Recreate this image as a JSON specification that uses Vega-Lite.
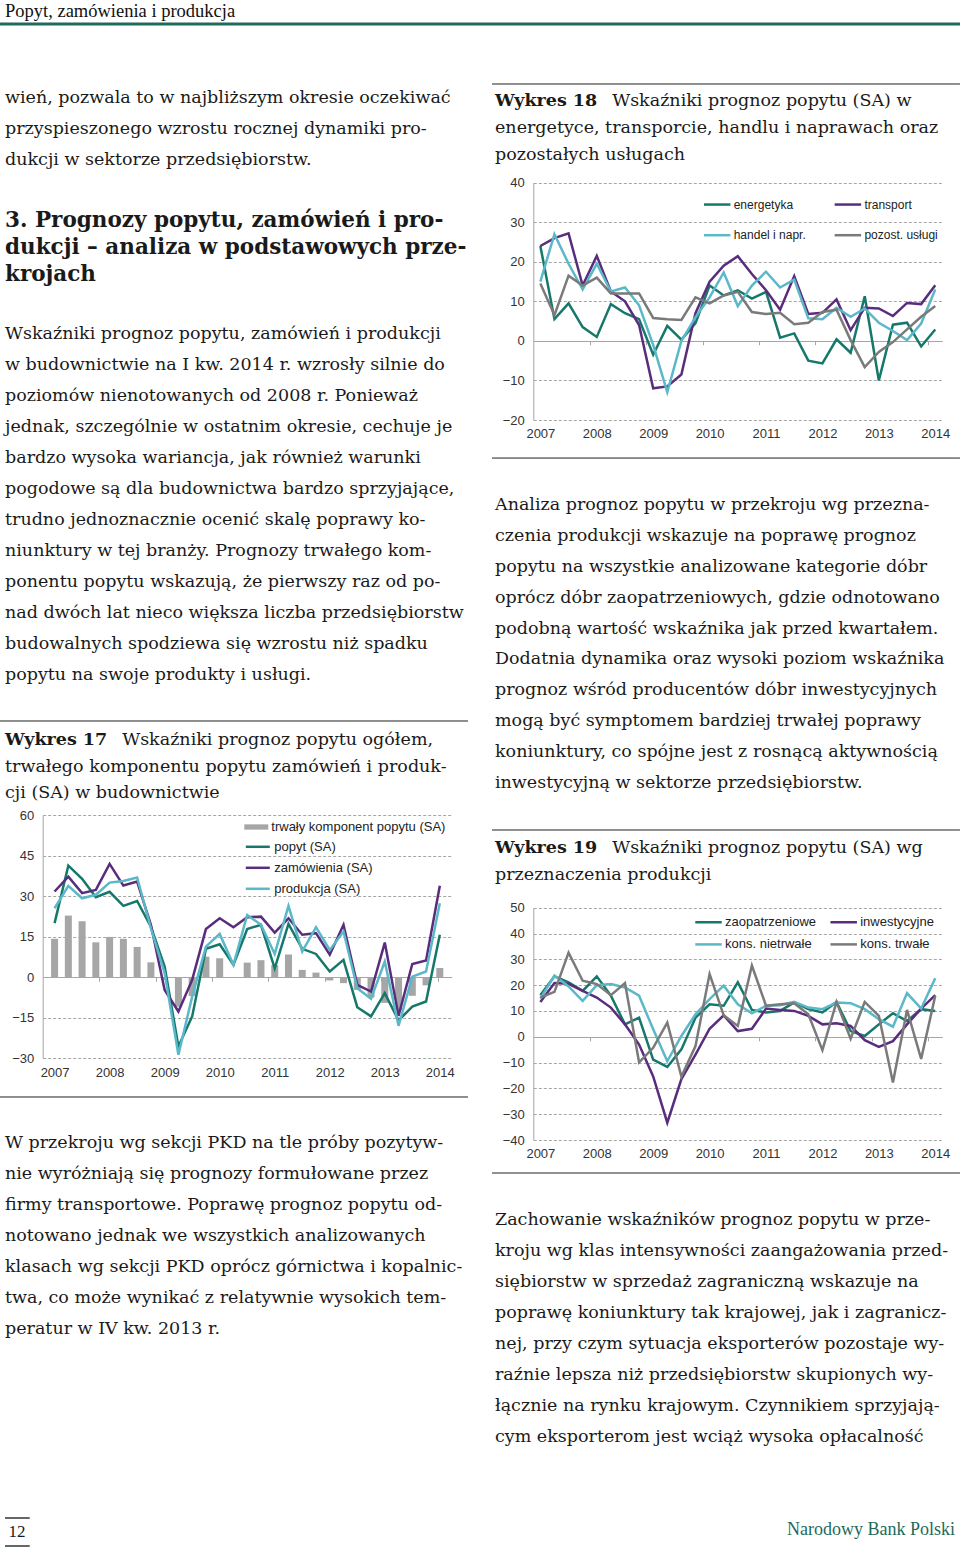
{
"$schema": "https://vega.github.io/schema/vega-lite/v6.json",
"width": 960, "height": 1547,
"autosize": {"type": "none"},
"padding": 0,
"background": "#ffffff",
"config": {"view": {"stroke": null}},
"datasets": {
"w18": [
{"t":2007,"energetyka":24,"transport":24,"handel":15,"pozost":14.5},
{"t":2007.25,"energetyka":5.5,"transport":26,"handel":27,"pozost":6.5},
{"t":2007.5,"energetyka":9.5,"transport":27.2,"handel":19.5,"pozost":16.5},
{"t":2007.75,"energetyka":3.5,"transport":14,"handel":13,"pozost":14},
{"t":2008,"energetyka":1,"transport":21.5,"handel":19.5,"pozost":16},
{"t":2008.25,"energetyka":9.3,"transport":12.5,"handel":12.5,"pozost":12},
{"t":2008.5,"energetyka":7,"transport":10,"handel":13.5,"pozost":12},
{"t":2008.75,"energetyka":5.5,"transport":4,"handel":9,"pozost":12},
{"t":2009,"energetyka":-3.5,"transport":-12,"handel":-1,"pozost":5.8},
{"t":2009.25,"energetyka":3.8,"transport":-11.5,"handel":-13,"pozost":5.5},
{"t":2009.5,"energetyka":0.3,"transport":-8.5,"handel":0,"pozost":5.3},
{"t":2009.75,"energetyka":4.5,"transport":7,"handel":6,"pozost":11},
{"t":2010,"energetyka":14,"transport":15,"handel":11,"pozost":9.5},
{"t":2010.25,"energetyka":11.5,"transport":19,"handel":17.3,"pozost":11.5},
{"t":2010.5,"energetyka":12.8,"transport":21.4,"handel":8.8,"pozost":12.4},
{"t":2010.75,"energetyka":10.7,"transport":16.9,"handel":14,"pozost":7.3},
{"t":2011,"energetyka":12.4,"transport":12.8,"handel":17.5,"pozost":6.8},
{"t":2011.25,"energetyka":0.8,"transport":7.9,"handel":13.5,"pozost":7.1},
{"t":2011.5,"energetyka":1.9,"transport":16.4,"handel":15.5,"pozost":4.2},
{"t":2011.75,"energetyka":-5,"transport":6.8,"handel":5.7,"pozost":4.6},
{"t":2012,"energetyka":-5.7,"transport":7.1,"handel":5.5,"pozost":7.3},
{"t":2012.25,"energetyka":0.4,"transport":10.5,"handel":8.4,"pozost":7.9},
{"t":2012.5,"energetyka":-3,"transport":2.7,"handel":6.1,"pozost":0.2},
{"t":2012.75,"energetyka":11.3,"transport":8.4,"handel":8.2,"pozost":-6.6},
{"t":2013,"energetyka":-10,"transport":8.2,"handel":4.6,"pozost":-2.8},
{"t":2013.25,"energetyka":4.1,"transport":6.3,"handel":2.5,"pozost":-0.3},
{"t":2013.5,"energetyka":4.6,"transport":9.6,"handel":0.2,"pozost":2.9},
{"t":2013.75,"energetyka":-1.4,"transport":9.3,"handel":4.4,"pozost":6.1},
{"t":2014,"energetyka":2.9,"transport":14.1,"handel":13,"pozost":8.8}
],
"w17": [
{"t":2007,"trwaly":14.2,"popyt":20,"zamowienia":31.7,"produkcja":25.5},
{"t":2007.25,"trwaly":22.8,"popyt":41.3,"zamowienia":37.2,"produkcja":33.8},
{"t":2007.5,"trwaly":20.7,"popyt":36.4,"zamowienia":31.1,"produkcja":29.2},
{"t":2007.75,"trwaly":12.9,"popyt":29.6,"zamowienia":32.3,"produkcja":30.5},
{"t":2008,"trwaly":14.9,"popyt":31.6,"zamowienia":41.9,"produkcja":35},
{"t":2008.25,"trwaly":14.2,"popyt":26.4,"zamowienia":33.9,"produkcja":35.6},
{"t":2008.5,"trwaly":11.2,"popyt":28.2,"zamowienia":35.4,"produkcja":36.9},
{"t":2008.75,"trwaly":5.5,"popyt":18.7,"zamowienia":19.4,"produkcja":18.1},
{"t":2009,"trwaly":-1,"popyt":3.9,"zamowienia":-4.7,"produkcja":1.5},
{"t":2009.25,"trwaly":-10.9,"popyt":-25.6,"zamowienia":-12.7,"produkcja":-28.7},
{"t":2009.5,"trwaly":-7,"popyt":-14.5,"zamowienia":-1,"produkcja":-7.2},
{"t":2009.75,"trwaly":7.6,"popyt":10.5,"zamowienia":17.8,"produkcja":11.3},
{"t":2010,"trwaly":7,"popyt":12.2,"zamowienia":21.8,"produkcja":16},
{"t":2010.25,"trwaly":-0.3,"popyt":4.6,"zamowienia":18.5,"produkcja":4.6},
{"t":2010.5,"trwaly":5.4,"popyt":17.8,"zamowienia":22.2,"produkcja":23},
{"t":2010.75,"trwaly":6.3,"popyt":19.4,"zamowienia":22.4,"produkcja":19.4},
{"t":2011,"trwaly":4.5,"popyt":3.3,"zamowienia":16.5,"produkcja":8.6},
{"t":2011.25,"trwaly":8.4,"popyt":19.7,"zamowienia":21.8,"produkcja":26.4},
{"t":2011.5,"trwaly":2.7,"popyt":10.5,"zamowienia":15.7,"produkcja":9.5},
{"t":2011.75,"trwaly":1.7,"popyt":8.6,"zamowienia":16.3,"produkcja":18.5},
{"t":2012,"trwaly":-1.2,"popyt":2.1,"zamowienia":8.3,"produkcja":10.1},
{"t":2012.25,"trwaly":-2.2,"popyt":6.4,"zamowienia":19.4,"produkcja":16.9},
{"t":2012.5,"trwaly":-4.7,"popyt":-11.1,"zamowienia":-2.8,"produkcja":-4.1},
{"t":2012.75,"trwaly":-7.5,"popyt":-14.5,"zamowienia":-5.3,"produkcja":-8},
{"t":2013,"trwaly":-9.5,"popyt":-5.9,"zamowienia":12.8,"produkcja":5.8},
{"t":2013.25,"trwaly":-12.3,"popyt":-16,"zamowienia":-14.3,"produkcja":-18},
{"t":2013.5,"trwaly":-6.9,"popyt":-10.9,"zamowienia":4.9,"produkcja":0.2},
{"t":2013.75,"trwaly":-3,"popyt":-9,"zamowienia":6.2,"produkcja":2.1},
{"t":2014,"trwaly":3.4,"popyt":15.7,"zamowienia":33.8,"produkcja":27.4}
],
"w19": [
{"t":2007,"zaopatrzeniowe":16.1,"inwestycyjne":13.5,"nietrwale":14.8,"trwale":15.2},
{"t":2007.25,"zaopatrzeniowe":23.4,"inwestycyjne":20.8,"nietrwale":23.7,"trwale":17.4},
{"t":2007.5,"zaopatrzeniowe":21.1,"inwestycyjne":20.5,"nietrwale":19.5,"trwale":32.6},
{"t":2007.75,"zaopatrzeniowe":17.8,"inwestycyjne":17.8,"nietrwale":13.9,"trwale":21.7},
{"t":2008,"zaopatrzeniowe":23.4,"inwestycyjne":15.2,"nietrwale":20,"trwale":20.4},
{"t":2008.25,"zaopatrzeniowe":15.9,"inwestycyjne":11.3,"nietrwale":20.4,"trwale":16.1},
{"t":2008.5,"zaopatrzeniowe":4.8,"inwestycyjne":4.8,"nietrwale":19.1,"trwale":20.8},
{"t":2008.75,"zaopatrzeniowe":7.4,"inwestycyjne":-3,"nietrwale":15.9,"trwale":-9.9},
{"t":2009,"zaopatrzeniowe":-8.9,"inwestycyjne":-15.4,"nietrwale":2.9,"trwale":-4.3},
{"t":2009.25,"zaopatrzeniowe":-11.7,"inwestycyjne":-33.3,"nietrwale":-9.5,"trwale":5.5},
{"t":2009.5,"zaopatrzeniowe":-4.9,"inwestycyjne":-16.4,"nietrwale":0.3,"trwale":-15.4},
{"t":2009.75,"zaopatrzeniowe":7.4,"inwestycyjne":-6.9,"nietrwale":8.7,"trwale":-3.6},
{"t":2010,"zaopatrzeniowe":12.6,"inwestycyjne":3.1,"nietrwale":14.6,"trwale":24.3},
{"t":2010.25,"zaopatrzeniowe":12,"inwestycyjne":8.3,"nietrwale":19.8,"trwale":8.3},
{"t":2010.5,"zaopatrzeniowe":21.1,"inwestycyjne":2.2,"nietrwale":12.6,"trwale":4.2},
{"t":2010.75,"zaopatrzeniowe":10.4,"inwestycyjne":3.1,"nietrwale":9.1,"trwale":27.6},
{"t":2011,"zaopatrzeniowe":9.4,"inwestycyjne":10.9,"nietrwale":12,"trwale":12},
{"t":2011.25,"zaopatrzeniowe":10,"inwestycyjne":10.4,"nietrwale":12.2,"trwale":12.6},
{"t":2011.5,"zaopatrzeniowe":13.3,"inwestycyjne":10,"nietrwale":13.5,"trwale":13},
{"t":2011.75,"zaopatrzeniowe":10.7,"inwestycyjne":8.1,"nietrwale":11.3,"trwale":8.7},
{"t":2012,"zaopatrzeniowe":9.4,"inwestycyjne":4.8,"nietrwale":10.7,"trwale":-5.2},
{"t":2012.25,"zaopatrzeniowe":13.5,"inwestycyjne":5.2,"nietrwale":13.3,"trwale":13.5},
{"t":2012.5,"zaopatrzeniowe":2.2,"inwestycyjne":4.2,"nietrwale":13,"trwale":-0.8},
{"t":2012.75,"zaopatrzeniowe":0.3,"inwestycyjne":-1.3,"nietrwale":10.7,"trwale":13.5},
{"t":2013,"zaopatrzeniowe":4.8,"inwestycyjne":-3.9,"nietrwale":6.8,"trwale":8.1},
{"t":2013.25,"zaopatrzeniowe":9.1,"inwestycyjne":-1.7,"nietrwale":3.9,"trwale":-17.7},
{"t":2013.5,"zaopatrzeniowe":6.1,"inwestycyjne":4.8,"nietrwale":16.9,"trwale":10.4},
{"t":2013.75,"zaopatrzeniowe":10.7,"inwestycyjne":10.9,"nietrwale":10.9,"trwale":-8.6},
{"t":2014,"zaopatrzeniowe":10,"inwestycyjne":16.1,"nietrwale":22.7,"trwale":15.9}
]
},
"resolve": {"scale": {"x": "independent", "y": "independent", "color": "independent", "fill": "independent", "stroke": "independent"}, "axis": {"x": "independent", "y": "independent"}, "legend": {"color": "independent", "fill": "independent", "stroke": "independent"}},
"layer": [
{
 "encoding": {
  "x": {"datum": 0, "type": "quantitative", "scale": {"domain": [0, 1], "range": [5, 960], "nice": false, "zero": false}, "axis": null}
 },
 "layer": [
  {"data": {"values": [{"line": 0, "text": "Popyt, zamówienia i produkcja"}]},
   "mark": {"type": "text", "align": "left", "baseline": "middle", "font": "Liberation Serif", "fontSize": 18.5, "color": "#111111"},
   "encoding": {"y": {"field": "line", "type": "quantitative", "scale": {"domain": [0, 1], "range": [11, 24], "nice": false, "zero": false}, "axis": null}, "text": {"field": "text"}}},
  {"data": {"values": [{}]},
   "mark": {"type": "rule", "color": "#1e6b5c", "strokeWidth": 3},
   "encoding": {"x": {"datum": -0.0053}, "x2": {"datum": 1}, "y": {"datum": 1}}}
 ]
},
{
 "data": {"values": [
  {"line": 0, "text": "wień, pozwala to w najbliższym okresie oczekiwać"},
  {"line": 1, "text": "przyspieszonego wzrostu rocznej dynamiki pro-"},
  {"line": 2, "text": "dukcji w sektorze przedsiębiorstw."}
 ]},
 "mark": {"type": "text", "align": "left", "baseline": "middle", "font": "DejaVu Serif", "fontSize": 17.5, "color": "#1a1a1a"},
 "encoding": {
  "x": {"datum": 0, "type": "quantitative", "scale": {"domain": [0, 1], "range": [5, 468], "nice": false, "zero": false}, "axis": null},
  "y": {"field": "line", "type": "quantitative", "scale": {"domain": [0, 2], "range": [98, 160], "nice": false, "zero": false}, "axis": null},
  "text": {"field": "text"}
 }
},
{
 "data": {"values": [
  {"line": 0, "text": "3. Prognozy popytu, zamówień i pro-"},
  {"line": 1, "text": "dukcji – analiza w podstawowych prze-"},
  {"line": 2, "text": "krojach"}
 ]},
 "mark": {"type": "text", "align": "left", "baseline": "middle", "font": "DejaVu Serif", "fontSize": 21.5, "fontWeight": "bold", "color": "#1a1a1a"},
 "encoding": {
  "x": {"datum": 0, "type": "quantitative", "scale": {"domain": [0, 1], "range": [5, 468], "nice": false, "zero": false}, "axis": null},
  "y": {"field": "line", "type": "quantitative", "scale": {"domain": [0, 2], "range": [221, 275], "nice": false, "zero": false}, "axis": null},
  "text": {"field": "text"}
 }
},
{
 "data": {"values": [
  {"line": 0, "text": "Wskaźniki prognoz popytu, zamówień i produkcji"},
  {"line": 1, "text": "w budownictwie na I kw. 2014 r. wzrosły silnie do"},
  {"line": 2, "text": "poziomów nienotowanych od 2008 r. Ponieważ"},
  {"line": 3, "text": "jednak, szczególnie w ostatnim okresie, cechuje je"},
  {"line": 4, "text": "bardzo wysoka wariancja, jak również warunki"},
  {"line": 5, "text": "pogodowe są dla budownictwa bardzo sprzyjające,"},
  {"line": 6, "text": "trudno jednoznacznie ocenić skalę poprawy ko-"},
  {"line": 7, "text": "niunktury w tej branży. Prognozy trwałego kom-"},
  {"line": 8, "text": "ponentu popytu wskazują, że pierwszy raz od po-"},
  {"line": 9, "text": "nad dwóch lat nieco większa liczba przedsiębiorstw"},
  {"line": 10, "text": "budowalnych spodziewa się wzrostu niż spadku"},
  {"line": 11, "text": "popytu na swoje produkty i usługi."}
 ]},
 "mark": {"type": "text", "align": "left", "baseline": "middle", "font": "DejaVu Serif", "fontSize": 17.5, "color": "#1a1a1a"},
 "encoding": {
  "x": {"datum": 0, "type": "quantitative", "scale": {"domain": [0, 1], "range": [5, 468], "nice": false, "zero": false}, "axis": null},
  "y": {"field": "line", "type": "quantitative", "scale": {"domain": [0, 11], "range": [334, 675], "nice": false, "zero": false}, "axis": null},
  "text": {"field": "text"}
 }
},
{
 "encoding": {
  "x": {"datum": 0, "type": "quantitative", "scale": {"domain": [0, 1], "range": [5, 468], "nice": false, "zero": false}, "axis": null}
 },
 "layer": [
  {"data": {"values": [{"line": 0, "text": "Wykres 17"}]},
   "mark": {"type": "text", "align": "left", "baseline": "middle", "font": "DejaVu Serif", "fontSize": 17.5, "fontWeight": "bold", "color": "#1a1a1a"},
   "encoding": {"y": {"field": "line", "type": "quantitative", "scale": {"domain": [0, 2], "range": [740, 793], "nice": false, "zero": false}, "axis": null}, "text": {"field": "text"}}},
  {"data": {"values": [{"line": 0, "text": "Wskaźniki prognoz popytu ogółem,"}]},
   "mark": {"type": "text", "align": "left", "baseline": "middle", "font": "DejaVu Serif", "fontSize": 17.5, "color": "#1a1a1a"},
   "encoding": {"x": {"datum": 0.253}, "y": {"field": "line", "type": "quantitative"}, "text": {"field": "text"}}},
  {"data": {"values": [{"line": 1, "text": "trwałego komponentu popytu zamówień i produk-"}, {"line": 2, "text": "cji (SA) w budownictwie"}]},
   "mark": {"type": "text", "align": "left", "baseline": "middle", "font": "DejaVu Serif", "fontSize": 17.5, "color": "#1a1a1a"},
   "encoding": {"y": {"field": "line", "type": "quantitative"}, "text": {"field": "text"}}},
  {"data": {"values": [{}]}, "mark": {"type": "rule", "color": "#222222", "strokeWidth": 1},
   "encoding": {"x": {"datum": -0.0108}, "x2": {"datum": 1}, "y": {"datum": -0.717}}}
 ]
},
{
 "data": {"name": "w17"},
 "encoding": {
  "x": {"field": "t", "type": "quantitative", "scale": {"domain": [2006.875, 2014.125], "range": [42.7, 451.7], "nice": false, "zero": false},
   "axis": {"orient": "bottom", "offset": -488.7, "values": [2007, 2008, 2009, 2010, 2011, 2012, 2013, 2014], "format": "d", "grid": false, "domain": false, "ticks": false, "labelFlush": false, "labelOverlap": false, "labelFont": "Liberation Sans", "labelFontSize": 13, "labelColor": "#333333", "labelPadding": 8, "title": null}}
 },
 "layer": [
  {"mark": {"type": "bar", "size": 7},
   "encoding": {
    "y": {"field": "trwaly", "type": "quantitative", "scale": {"domain": [-30, 60], "range": [1058.3, 815], "nice": false, "zero": false},
     "axis": {"orient": "left", "offset": -42.7, "values": [-30, -15, 0, 15, 30, 45, 60], "grid": true, "gridColor": "#a6a6a6", "gridDash": {"condition": {"test": "datum.value === 0", "value": []}, "value": [3, 2]}, "domain": true, "domainColor": "#a6a6a6", "ticks": false, "labelFont": "Liberation Sans", "labelFontSize": 13, "labelColor": "#333333", "labelPadding": 9, "title": null}},
    "fill": {"datum": "trwały komponent popytu (SA)", "type": "nominal",
     "scale": {"domain": ["trwały komponent popytu (SA)"], "range": ["#a6a6a6"]},
     "legend": {"orient": "none", "legendX": 244.3, "legendY": 815, "title": null, "symbolType": "M-1,-0.22H1V0.22H-1Z", "symbolSize": 576, "symbolStrokeWidth": 0, "labelFont": "Liberation Sans", "labelFontSize": 13, "labelColor": "#222222", "labelOffset": 3, "labelLimit": 300, "padding": 0}}
   }},
  {"transform": [{"fold": ["popyt", "zamowienia", "produkcja"], "as": ["s", "v"]}],
   "mark": {"type": "line", "strokeWidth": 2.5},
   "encoding": {
    "y": {"field": "v", "type": "quantitative", "axis": {"title": null}},
    "stroke": {"field": "s", "type": "nominal",
     "scale": {"domain": ["popyt", "zamowienia", "produkcja"], "range": ["#16786a", "#5a2d7c", "#5bb8c8"]},
     "legend": {"orient": "none", "legendX": 244.3, "legendY": 833.3, "title": null, "symbolType": "stroke", "symbolSize": 576, "symbolStrokeWidth": 2.5, "labelFont": "Liberation Sans", "labelFontSize": 13, "labelColor": "#222222", "labelOffset": 3, "labelLimit": 300, "rowPadding": -2.8, "padding": 0,
      "labelExpr": "{'popyt':'popyt (SA)','zamowienia':'zamówienia (SA)','produkcja':'produkcja (SA)'}[datum.label]"}}
   }}
 ]
},
{
 "data": {"name": "w17"},
 "mark": {"type": "point", "opacity": 0},
 "encoding": {
  "x": {"field": "t", "type": "quantitative", "scale": {"domain": [2006.875, 2014.125], "range": [42.7, 451.7], "nice": false, "zero": false},
   "axis": {"orient": "bottom", "offset": -569.7, "values": [2007.875, 2008.875, 2009.875, 2010.875, 2011.875, 2012.875, 2013.875], "labels": false, "grid": false, "domain": false, "ticks": true, "tickSize": 4, "tickColor": "#a6a6a6", "tickWidth": 1, "title": null}}
 }
},
{
 "encoding": {
  "x": {"datum": 0, "type": "quantitative", "scale": {"domain": [0, 1], "range": [5, 468], "nice": false, "zero": false}, "axis": null}
 },
 "layer": [
  {"data": {"values": [
   {"line": 0, "text": "W przekroju wg sekcji PKD na tle próby pozytyw-"},
   {"line": 1, "text": "nie wyróżniają się prognozy formułowane przez"},
   {"line": 2, "text": "firmy transportowe. Poprawę prognoz popytu od-"},
   {"line": 3, "text": "notowano jednak we wszystkich analizowanych"},
   {"line": 4, "text": "klasach wg sekcji PKD oprócz górnictwa i kopalnic-"},
   {"line": 5, "text": "twa, co może wynikać z relatywnie wysokich tem-"},
   {"line": 6, "text": "peratur w IV kw. 2013 r."}
  ]},
   "mark": {"type": "text", "align": "left", "baseline": "middle", "font": "DejaVu Serif", "fontSize": 17.5, "color": "#1a1a1a"},
   "encoding": {"y": {"field": "line", "type": "quantitative", "scale": {"domain": [0, 6], "range": [1143, 1329], "nice": false, "zero": false}, "axis": null}, "text": {"field": "text"}}},
  {"data": {"values": [{}]}, "mark": {"type": "rule", "color": "#222222", "strokeWidth": 1},
   "encoding": {"x": {"datum": -0.0108}, "x2": {"datum": 1}, "y": {"datum": -1.484}}}
 ]
},
{
 "encoding": {
  "x": {"datum": 0, "type": "quantitative", "scale": {"domain": [0, 1], "range": [495, 958], "nice": false, "zero": false}, "axis": null}
 },
 "layer": [
  {"data": {"values": [{"line": 0, "text": "Wykres 18"}]},
   "mark": {"type": "text", "align": "left", "baseline": "middle", "font": "DejaVu Serif", "fontSize": 17.5, "fontWeight": "bold", "color": "#1a1a1a"},
   "encoding": {"y": {"field": "line", "type": "quantitative", "scale": {"domain": [0, 2], "range": [101, 155], "nice": false, "zero": false}, "axis": null}, "text": {"field": "text"}}},
  {"data": {"values": [{"line": 0, "text": "Wskaźniki prognoz popytu (SA) w"}]},
   "mark": {"type": "text", "align": "left", "baseline": "middle", "font": "DejaVu Serif", "fontSize": 17.5, "color": "#1a1a1a"},
   "encoding": {"x": {"datum": 0.253}, "y": {"field": "line", "type": "quantitative"}, "text": {"field": "text"}}},
  {"data": {"values": [{"line": 1, "text": "energetyce, transporcie, handlu i naprawach oraz"}, {"line": 2, "text": "pozostałych usługach"}]},
   "mark": {"type": "text", "align": "left", "baseline": "middle", "font": "DejaVu Serif", "fontSize": 17.5, "color": "#1a1a1a"},
   "encoding": {"y": {"field": "line", "type": "quantitative"}, "text": {"field": "text"}}},
  {"data": {"values": [{}]}, "mark": {"type": "rule", "color": "#222222", "strokeWidth": 1},
   "encoding": {"x": {"datum": -0.0065}, "x2": {"datum": 1.0043}, "y": {"datum": -0.63}}}
 ]
},
{
 "data": {"name": "w18"},
 "transform": [{"fold": ["energetyka", "transport", "handel", "pozost"], "as": ["s", "v"]}],
 "mark": {"type": "line", "strokeWidth": 2.5},
 "encoding": {
  "x": {"field": "t", "type": "quantitative", "scale": {"domain": [2006.875, 2014.125], "range": [533.3, 942.3], "nice": false, "zero": false},
   "axis": {"orient": "bottom", "offset": -1127, "values": [2007, 2008, 2009, 2010, 2011, 2012, 2013, 2014], "format": "d", "grid": false, "domain": false, "ticks": false, "labelFlush": false, "labelOverlap": false, "labelFont": "Liberation Sans", "labelFontSize": 13, "labelColor": "#333333", "labelPadding": 7, "title": null}},
  "y": {"field": "v", "type": "quantitative", "scale": {"domain": [-20, 40], "range": [420, 182.7], "nice": false, "zero": false},
   "axis": {"orient": "left", "offset": -533.3, "values": [-20, -10, 0, 10, 20, 30, 40], "grid": true, "gridColor": "#a6a6a6", "gridDash": {"condition": {"test": "datum.value === 0", "value": []}, "value": [3, 2]}, "domain": true, "domainColor": "#a6a6a6", "ticks": false, "labelFont": "Liberation Sans", "labelFontSize": 13, "labelColor": "#333333", "labelPadding": 9, "title": null}},
  "color": {"field": "s", "type": "nominal",
   "scale": {"domain": ["energetyka", "transport", "handel", "pozost"], "range": ["#16786a", "#5a2d7c", "#5bb8c8", "#7a7a7a"]},
   "legend": {"orient": "none", "legendX": 702.7, "legendY": 189.8, "title": null, "direction": "horizontal", "columns": 2, "columnPadding": 22.7, "rowPadding": 9.9, "symbolType": "stroke", "symbolSize": 700, "symbolStrokeWidth": 2.5, "labelFont": "Liberation Sans", "labelFontSize": 12, "labelColor": "#222222", "labelOffset": 2, "padding": 0,
    "labelExpr": "{'energetyka':'energetyka','transport':'transport','handel':'handel i napr.','pozost':'pozost. usługi'}[datum.label]"}}
 }
},
{
 "data": {"name": "w18"},
 "mark": {"type": "point", "opacity": 0},
 "encoding": {
  "x": {"field": "t", "type": "quantitative", "scale": {"domain": [2006.875, 2014.125], "range": [533.3, 942.3], "nice": false, "zero": false},
   "axis": {"orient": "bottom", "offset": -1206.3, "values": [2007.875, 2008.875, 2009.875, 2010.875, 2011.875, 2012.875, 2013.875], "labels": false, "grid": false, "domain": false, "ticks": true, "tickSize": 4, "tickColor": "#a6a6a6", "tickWidth": 1, "title": null}}
 }
},
{
 "encoding": {
  "x": {"datum": 0, "type": "quantitative", "scale": {"domain": [0, 1], "range": [495, 958], "nice": false, "zero": false}, "axis": null}
 },
 "layer": [
  {"data": {"values": [
   {"line": 0, "text": "Analiza prognoz popytu w przekroju wg przezna-"},
   {"line": 1, "text": "czenia produkcji wskazuje na poprawę prognoz"},
   {"line": 2, "text": "popytu na wszystkie analizowane kategorie dóbr"},
   {"line": 3, "text": "oprócz dóbr zaopatrzeniowych, gdzie odnotowano"},
   {"line": 4, "text": "podobną wartość wskaźnika jak przed kwartałem."},
   {"line": 5, "text": "Dodatnia dynamika oraz wysoki poziom wskaźnika"},
   {"line": 6, "text": "prognoz wśród producentów dóbr inwestycyjnych"},
   {"line": 7, "text": "mogą być symptomem bardziej trwałej poprawy"},
   {"line": 8, "text": "koniunktury, co spójne jest z rosnącą aktywnością"},
   {"line": 9, "text": "inwestycyjną w sektorze przedsiębiorstw."}
  ]},
   "mark": {"type": "text", "align": "left", "baseline": "middle", "font": "DejaVu Serif", "fontSize": 17.5, "color": "#1a1a1a"},
   "encoding": {"y": {"field": "line", "type": "quantitative", "scale": {"domain": [0, 9], "range": [505, 783], "nice": false, "zero": false}, "axis": null}, "text": {"field": "text"}}},
  {"data": {"values": [{}]}, "mark": {"type": "rule", "color": "#222222", "strokeWidth": 1},
   "encoding": {"x": {"datum": -0.0065}, "x2": {"datum": 1.0043}, "y": {"datum": -1.52}}}
 ]
},
{
 "encoding": {
  "x": {"datum": 0, "type": "quantitative", "scale": {"domain": [0, 1], "range": [495, 958], "nice": false, "zero": false}, "axis": null}
 },
 "layer": [
  {"data": {"values": [{"line": 0, "text": "Wykres 19"}]},
   "mark": {"type": "text", "align": "left", "baseline": "middle", "font": "DejaVu Serif", "fontSize": 17.5, "fontWeight": "bold", "color": "#1a1a1a"},
   "encoding": {"y": {"field": "line", "type": "quantitative", "scale": {"domain": [0, 1], "range": [848, 875], "nice": false, "zero": false}, "axis": null}, "text": {"field": "text"}}},
  {"data": {"values": [{"line": 0, "text": "Wskaźniki prognoz popytu (SA) wg"}]},
   "mark": {"type": "text", "align": "left", "baseline": "middle", "font": "DejaVu Serif", "fontSize": 17.5, "color": "#1a1a1a"},
   "encoding": {"x": {"datum": 0.253}, "y": {"field": "line", "type": "quantitative"}, "text": {"field": "text"}}},
  {"data": {"values": [{"line": 1, "text": "przeznaczenia produkcji"}]},
   "mark": {"type": "text", "align": "left", "baseline": "middle", "font": "DejaVu Serif", "fontSize": 17.5, "color": "#1a1a1a"},
   "encoding": {"y": {"field": "line", "type": "quantitative"}, "text": {"field": "text"}}},
  {"data": {"values": [{}]}, "mark": {"type": "rule", "color": "#222222", "strokeWidth": 1},
   "encoding": {"x": {"datum": -0.0065}, "x2": {"datum": 1.0043}, "y": {"datum": -0.667}}}
 ]
},
{
 "data": {"name": "w19"},
 "transform": [{"fold": ["zaopatrzeniowe", "inwestycyjne", "nietrwale", "trwale"], "as": ["s", "v"]}],
 "mark": {"type": "line", "strokeWidth": 2.5},
 "encoding": {
  "x": {"field": "t", "type": "quantitative", "scale": {"domain": [2006.875, 2014.125], "range": [533.3, 942.3], "nice": false, "zero": false},
   "axis": {"orient": "bottom", "offset": -407, "values": [2007, 2008, 2009, 2010, 2011, 2012, 2013, 2014], "format": "d", "grid": false, "domain": false, "ticks": false, "labelFlush": false, "labelOverlap": false, "labelFont": "Liberation Sans", "labelFontSize": 13, "labelColor": "#333333", "labelPadding": 7, "title": null}},
  "y": {"field": "v", "type": "quantitative", "scale": {"domain": [-40, 50], "range": [1140, 907.7], "nice": false, "zero": false},
   "axis": {"orient": "left", "offset": -533.3, "values": [-40, -30, -20, -10, 0, 10, 20, 30, 40, 50], "grid": true, "gridColor": "#a6a6a6", "gridDash": {"condition": {"test": "datum.value === 0", "value": []}, "value": [3, 2]}, "domain": true, "domainColor": "#a6a6a6", "ticks": false, "labelFont": "Liberation Sans", "labelFontSize": 13, "labelColor": "#333333", "labelPadding": 9, "title": null}},
  "color": {"field": "s", "type": "nominal",
   "scale": {"domain": ["zaopatrzeniowe", "inwestycyjne", "nietrwale", "trwale"], "range": ["#16786a", "#5a2d7c", "#5bb8c8", "#7a7a7a"]},
   "legend": {"orient": "none", "legendX": 694, "legendY": 907.5, "title": null, "direction": "horizontal", "columns": 2, "columnPadding": 8.2, "rowPadding": 0.4, "symbolType": "stroke", "symbolSize": 700, "symbolStrokeWidth": 2.5, "labelFont": "Liberation Sans", "labelFontSize": 13, "labelColor": "#222222", "labelOffset": 2, "padding": 0,
    "labelExpr": "{'zaopatrzeniowe':'zaopatrzeniowe','inwestycyjne':'inwestycyjne','nietrwale':'kons. nietrwałe','trwale':'kons. trwałe'}[datum.label]"}}
 }
},
{
 "data": {"name": "w19"},
 "mark": {"type": "point", "opacity": 0},
 "encoding": {
  "x": {"field": "t", "type": "quantitative", "scale": {"domain": [2006.875, 2014.125], "range": [533.3, 942.3], "nice": false, "zero": false},
   "axis": {"orient": "bottom", "offset": -510.2, "values": [2007.875, 2008.875, 2009.875, 2010.875, 2011.875, 2012.875, 2013.875], "labels": false, "grid": false, "domain": false, "ticks": true, "tickSize": 4, "tickColor": "#a6a6a6", "tickWidth": 1, "title": null}}
 }
},
{
 "encoding": {
  "x": {"datum": 0, "type": "quantitative", "scale": {"domain": [0, 1], "range": [495, 958], "nice": false, "zero": false}, "axis": null}
 },
 "layer": [
  {"data": {"values": [
   {"line": 0, "text": "Zachowanie wskaźników prognoz popytu w prze-"},
   {"line": 1, "text": "kroju wg klas intensywności zaangażowania przed-"},
   {"line": 2, "text": "siębiorstw w sprzedaż zagraniczną wskazuje na"},
   {"line": 3, "text": "poprawę koniunktury tak krajowej, jak i zagranicz-"},
   {"line": 4, "text": "nej, przy czym sytuacja eksporterów pozostaje wy-"},
   {"line": 5, "text": "raźnie lepsza niż przedsiębiorstw skupionych wy-"},
   {"line": 6, "text": "łącznie na rynku krajowym. Czynnikiem sprzyjają-"},
   {"line": 7, "text": "cym eksporterom jest wciąż wysoka opłacalność"}
  ]},
   "mark": {"type": "text", "align": "left", "baseline": "middle", "font": "DejaVu Serif", "fontSize": 17.5, "color": "#1a1a1a"},
   "encoding": {"y": {"field": "line", "type": "quantitative", "scale": {"domain": [0, 7], "range": [1220, 1437], "nice": false, "zero": false}, "axis": null}, "text": {"field": "text"}}},
  {"data": {"values": [{}]}, "mark": {"type": "rule", "color": "#222222", "strokeWidth": 1},
   "encoding": {"x": {"datum": -0.0065}, "x2": {"datum": 1.0043}, "y": {"datum": -1.516}}}
 ]
},
{
 "encoding": {
  "x": {"datum": 0, "type": "quantitative", "scale": {"domain": [0, 1], "range": [5, 955], "nice": false, "zero": false}, "axis": null},
  "y": {"datum": 0, "type": "quantitative", "scale": {"domain": [0, 1], "range": [1518, 1546], "nice": false, "zero": false}, "axis": null}
 },
 "layer": [
  {"data": {"values": [{}]}, "mark": {"type": "rule", "color": "#333333", "strokeWidth": 1.5},
   "encoding": {"x2": {"datum": 0.026}}},
  {"data": {"values": [{}]}, "mark": {"type": "rule", "color": "#333333", "strokeWidth": 1.5},
   "encoding": {"x2": {"datum": 0.026}, "y": {"datum": 1}}},
  {"data": {"values": [{"text": "12"}]},
   "mark": {"type": "text", "align": "center", "baseline": "middle", "font": "Liberation Serif", "fontSize": 17, "color": "#1a1a1a"},
   "encoding": {"x": {"datum": 0.0126}, "y": {"datum": 0.5}, "text": {"field": "text"}}},
  {"data": {"values": [{"text": "Narodowy Bank Polski"}]},
   "mark": {"type": "text", "align": "right", "baseline": "middle", "font": "Liberation Serif", "fontSize": 18, "color": "#1e6b5c"},
   "encoding": {"x": {"datum": 1}, "y": {"datum": 0.43}, "text": {"field": "text"}}}
 ]
}
]
}
